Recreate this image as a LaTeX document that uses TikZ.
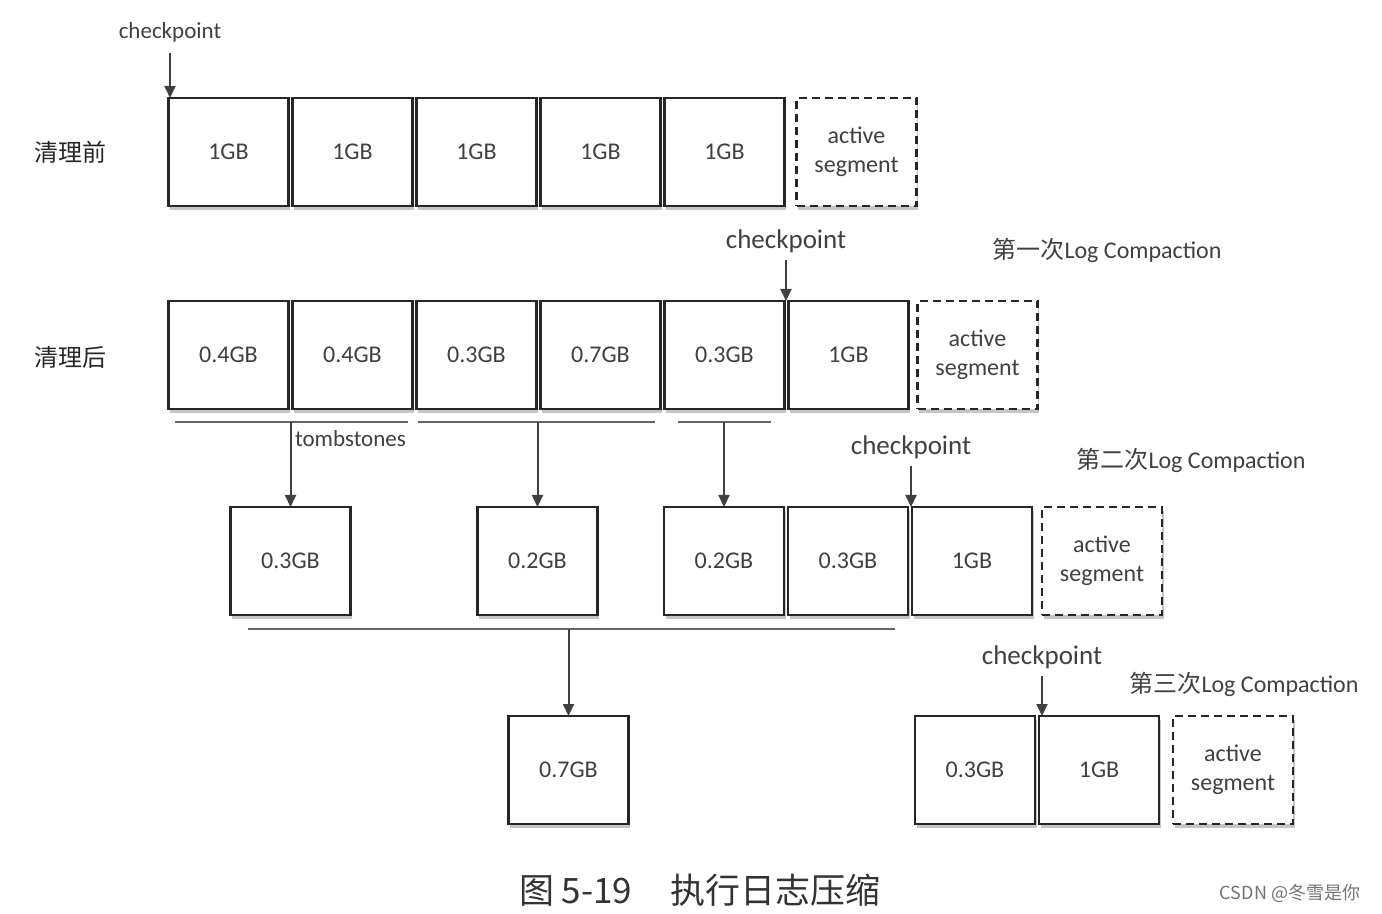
\documentclass[tikz,border=0pt]{standalone}
\usepackage{fontspec}
\setmainfont{Carlito}
\newfontfamily\cjk{Noto Sans CJK SC}
\usetikzlibrary{positioning,shadows,arrows.meta}

\tikzset{
  seg/.style={rectangle, draw=black!85, line width=1.2pt, fill=white,
    minimum width=60pt, minimum height=54pt, inner sep=0pt, outer sep=0pt,
    text=black!75, font=\fontsize{12}{14}\selectfont,
    drop shadow={shadow xshift=0.8pt, shadow yshift=-1.8pt, fill=black!45}},
  activeseg/.style={seg, dash pattern=on 4pt off 2.5pt, align=center, font=\fontsize{12}{14.5}\selectfont},
  cpbig/.style={text=black!75, font=\fontsize{13.5}{15}\selectfont},
  cpsmall/.style={text=black!75, font=\fontsize{11.5}{13}\selectfont},
  rowlabel/.style={text=black!85, font=\cjk\fontsize{12}{14}\selectfont},
  roundlabel/.style={text=black!75, font=\fontsize{12}{14}\selectfont},
  underline/.style={draw=black!60, line width=1.3pt},
  arrow/.style={draw=black!75, line width=1pt, -{Triangle[length=6pt,width=5.5pt]}}
}

\begin{document}
\begin{tikzpicture}[x=0.5pt, y=-0.5pt]
\useasboundingbox (0,0) rectangle (1382,914);

% before cleaning
\node (before) [rowlabel] at (70,152) {清理前};
\node (a1) [seg] at (228.5,152) {1GB};
\node (a2) [seg, right=2pt of a1] {1GB};
\node (a3) [seg, right=2pt of a2] {1GB};
\node (a4) [seg, right=2pt of a3] {1GB};
\node (a5) [seg, right=2pt of a4] {1GB};
\node (a6) [activeseg, right=6pt of a5] {active\\segment};
\node (cp1) [cpsmall] at (170,32) {checkpoint};
\draw[arrow] ([yshift=-2pt]cp1.south) -- (cp1 |- a1.north);

% after cleaning
\node (after) [rowlabel] at (70,357) {清理后};
\node (b1) [seg] at (228.5,355) {0.4GB};
\node (b2) [seg, right=2pt of b1] {0.4GB};
\node (b3) [seg, right=2pt of b2] {0.3GB};
\node (b4) [seg, right=2pt of b3] {0.7GB};
\node (b5) [seg, right=2pt of b4] {0.3GB};
\node (b6) [seg, right=2pt of b5] {1GB};
\node (b7) [activeseg, right=4.5pt of b6] {active\\segment};
\node (cp2) [cpbig] at (786,241) {checkpoint};
\draw[arrow] (cp2.south) -- (cp2 |- b6.north);
\node (round1) [roundlabel] at (1107,250) {{\cjk 第一次}Log Compaction};

\coordinate (u1) at (175,422);
\coordinate (u2) at (408,422);
\coordinate (u3) at (418,422);
\coordinate (u4) at (655,422);
\coordinate (u5) at (678,422);
\coordinate (u6) at (771,422);
\draw[underline] (u1) -- (u2);
\draw[underline] (u3) -- (u4);
\draw[underline] (u5) -- (u6);
\node (tomb) [cpsmall, anchor=west] at (288,439) {tombstones};

% second compaction
\node (c1) [seg] at (290.5,561) {0.3GB};
\node (c2) [seg] at (537.5,561) {0.2GB};
\node (c3) [seg] at (724,561) {0.2GB};
\node (c4) [seg, right=2pt of c3] {0.3GB};
\node (c5) [seg, right=2pt of c4] {1GB};
\node (c6) [activeseg, right=5pt of c5] {active\\segment};
\node (cp3) [cpbig] at (911,447) {checkpoint};
\draw[arrow] (cp3.south) -- (cp3 |- c4.north);
\node (round2) [roundlabel] at (1191,460) {{\cjk 第二次}Log Compaction};

\draw[arrow] (c1.north |- u1) -- (c1.north);
\draw[arrow] (c2.north |- u3) -- (c2.north);
\draw[arrow] (c3.north |- u5) -- (c3.north);

\coordinate (v1) at (248,629);
\coordinate (v2) at (895,629);
\draw[underline] (v1) -- (v2);

% third compaction
\node (d1) [seg] at (568.5,770) {0.7GB};
\node (d2) [seg] at (975,770) {0.3GB};
\node (d3) [seg, right=2pt of d2] {1GB};
\node (d4) [activeseg, right=7pt of d3] {active\\segment};
\node (cp4) [cpbig] at (1042,657) {checkpoint};
\draw[arrow] (cp4.south) -- (cp4 |- d2.north east);
\node (round3) [roundlabel] at (1244,684) {{\cjk 第三次}Log Compaction};

\draw[arrow] (d1.north |- v1) -- (d1.north);

% caption
\node (caption) [text=black!80, font=\cjk\fontsize{17.5}{19}\selectfont] at (700,890) {图 5-19\hspace{1.1em}执行日志压缩};
\node (mark) [text=black!55, font=\cjk\fontsize{9}{11}\selectfont] at (1290,893) {CSDN @冬雪是你};

\end{tikzpicture}
\end{document}
